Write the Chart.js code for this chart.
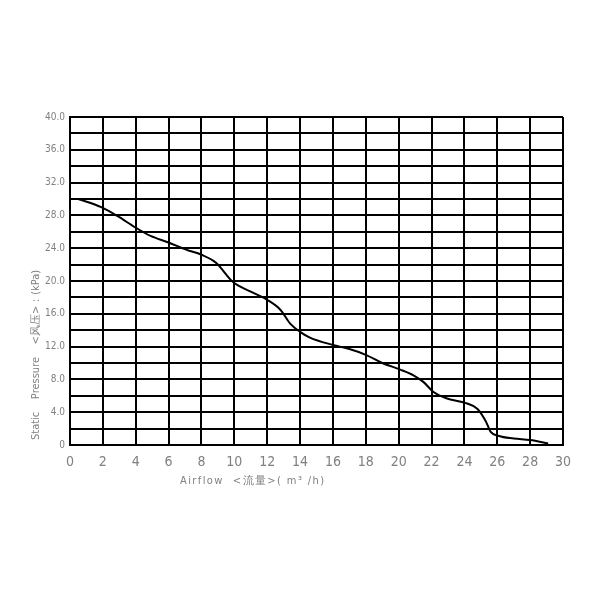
<!DOCTYPE html>
<html>
<head>
<meta charset="utf-8">
<script src="https://cdn.jsdelivr.net/npm/chart.js@4"></script>
<style>
  body { margin: 0; background: #fff; }
  #c { display: block; }
</style>
</head>
<body>
<canvas id="c" width="600" height="600"></canvas>
<script>
// fan curve: airflow (m3/h) vs static pressure (kPa)
const airflow  = [0.5, 1.9, 2.9, 4.0, 4.9, 6.0, 7.1, 8.0, 8.9, 9.9, 11.0, 12.0, 12.8, 13.4, 14.0, 14.6, 16.0, 17.0, 18.0, 19.0, 20.1, 20.9, 21.5, 22.1, 22.9, 24.1, 24.8, 25.3, 25.6, 26.1, 27.0, 28.0, 29.1];
const pressure = [30.0, 29.0, 27.9, 26.5, 25.5, 24.7, 23.8, 23.2, 22.2, 19.9, 18.7, 17.7, 16.5, 14.8, 13.8, 13.1, 12.2, 11.7, 11.0, 10.0, 9.2, 8.5, 7.7, 6.5, 5.7, 5.1, 4.4, 2.9, 1.6, 1.1, 0.8, 0.6, 0.2];

const xTicks = [0, 2, 4, 6, 8, 10, 12, 14, 16, 18, 20, 22, 24, 26, 28, 30];
const yLabelled = [0, 4, 8, 12, 16, 20, 24, 28, 32, 36, 40];

const xTitle = 'Airflow  <流量>( m³ /h)';
const yTitle = 'Static    Pressure    <风压>：(kPa)';

const FONT = "'Liberation Sans Narrow', 'DejaVu Sans Condensed', sans-serif";
const GREY = '#808080';

// axis titles sit off-centre in the original, so draw them by hand
const axisTitles = {
    id: 'axisTitles',
    afterDraw(chart) {
        const ctx = chart.ctx;
        ctx.save();
        ctx.fillStyle = GREY;
        ctx.font = '11px ' + FONT;
        ctx.textBaseline = 'middle';
        ctx.textAlign = 'left';
        ctx.letterSpacing = '1.4px';
        ctx.fillText(xTitle, 180, 481);
        ctx.letterSpacing = '0px';
        ctx.translate(36, 440);
        ctx.rotate(-Math.PI / 2);
        ctx.fillText(yTitle, 0, 0);
        ctx.restore();
    }
};

new Chart(document.getElementById('c'), {
    type: 'line',
    data: {
        datasets: [{
            data: airflow.map((x, i) => ({ x: x, y: pressure[i] })),
            borderColor: '#000',
            borderWidth: 2,
            pointRadius: 0,
            fill: false,
            tension: 0.4,
            cubicInterpolationMode: 'monotone'
        }]
    },
    options: {
        responsive: false,
        animation: false,
        layout: { padding: { top: 117, right: 37, left: 0, bottom: 0 } },
        plugins: { legend: { display: false }, tooltip: { enabled: false } },
        scales: {
            x: {
                type: 'linear',
                min: 0, max: 30,
                afterFit(scale) { scale.height = 155; },
                afterBuildTicks(scale) { scale.ticks = xTicks.map(v => ({ value: v })); },
                ticks: { color: GREY, padding: 9, font: { family: FONT, size: 14 }, maxRotation: 0 },
                grid: { color: '#000', lineWidth: 2, drawTicks: false },
                border: { color: '#000', width: 2 }
            },
            y: {
                min: 0, max: 40,
                afterFit(scale) { scale.width = 70; },
                ticks: {
                    stepSize: 2,
                    color: GREY,
                    padding: 5,
                    font: { family: FONT, size: 10 },
                    callback: v => yLabelled.includes(v) ? (v === 0 ? '0' : v.toFixed(1)) : ''
                },
                grid: { color: '#000', lineWidth: 2, drawTicks: false },
                border: { color: '#000', width: 2 }
            }
        }
    },
    plugins: [axisTitles]
});
</script>
</body>
</html>
